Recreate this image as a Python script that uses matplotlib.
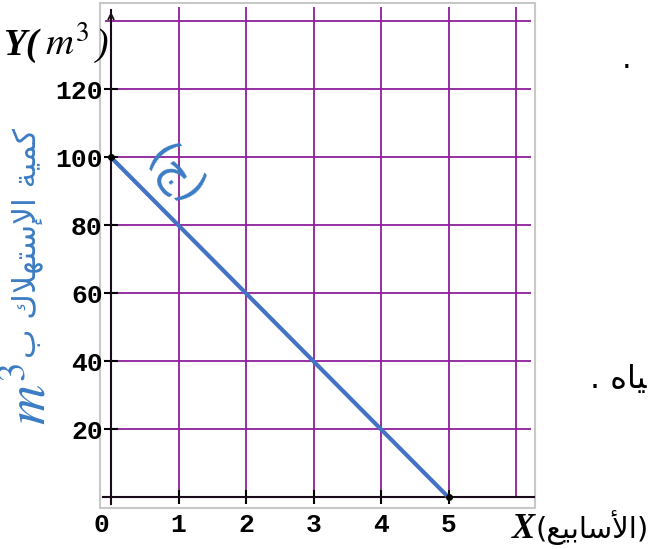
import matplotlib.pyplot as plt
from matplotlib.patches import Rectangle

# data: water consumption (m^3) against weeks
weeks = [0, 1, 2, 3, 4, 5]
consumption = [100, 80, 60, 40, 20, 0]
x_ticks = [1, 2, 3, 4, 5]
x_labels = ["1", "2", "3", "4", "5"]
y_ticks = [20, 40, 60, 80, 100, 120]
y_labels = ["20", "40", "60", "80", "100", "120"]
x_grid = [1, 2, 3, 4, 5, 6]
y_grid = [20, 40, 60, 80, 100, 120, 140]

# arabic text in presentation forms, visual order (no shaping in matplotlib)
ylabel_ar = "\uFE8F \uFED9\uFEFC\uFEEC\uFE98\uFEB3\uFEF9\uFE8D \uFE94\uFEF4\uFEE4\uFEDB"
xlabel_ar = "(\uFECA\uFEF4\uFE91\uFE8E\uFEB3\uFEF7\uFE8D)"
side_ar = ". \uFEE9\uFE8E\uFEF4"
note_ar = "(\uFE9D)"

purple = "#8e1f9a"
blue_line = "#4472c4"
blue_txt = "#3b7cc4"

plt.rcParams['font.family'] = ['DejaVu Sans']
plt.rcParams['mathtext.fontset'] = 'stix'

W, H = 652, 549
fig = plt.figure(figsize=(W / 100, H / 100), dpi=100)
ax = fig.add_axes([100 / W, 1 - 508 / H, 435 / W, 505 / H])
ax.set_xlim(-0.163, 6.281)
ax.set_ylim(-3.15, 145.4)

# grey frame around the picture
ax.add_patch(Rectangle((0, 0), 1, 1, transform=ax.transAxes, fill=False,
                       ec="#c8c8c8", lw=1.5, clip_on=False, zorder=0))
for s in ["top", "right"]:
    ax.spines[s].set_visible(False)

# grid
ax.vlines(x_grid, 0, 144.2, color=purple, lw=1.3, zorder=1)
ax.hlines(y_grid, -0.09, 6.22, color=purple, lw=1.3, zorder=1)

# axes through origin
ax.spines['left'].set_position(('data', 0))
ax.spines['bottom'].set_position(('data', 0))
ax.spines['left'].set_bounds(-1.97, 143.3)
ax.spines['bottom'].set_bounds(-0.12, 6.27)
for s in ["left", "bottom"]:
    ax.spines[s].set_color("#1a0a1a")
    ax.spines[s].set_linewidth(1.5)
    ax.spines[s].set_zorder(2)
ax.annotate("", xy=(0, 143.6), xytext=(0, 138), arrowprops=dict(arrowstyle="->", color="#1a0a1a", lw=1.3))
ax.annotate("", xy=(6.3, 0), xytext=(6.1, 0), arrowprops=dict(arrowstyle="->", color="#1a0a1a", lw=1.3))

ax.set_xticks(x_ticks)
ax.set_xticklabels(x_labels, fontfamily="Liberation Mono", fontweight="bold", fontsize=19)
ax.set_yticks(y_ticks)
ax.set_yticklabels(y_labels, fontfamily="Liberation Mono", fontweight="bold", fontsize=19)
ax.tick_params(axis="both", direction="inout", length=10, width=1.5, color="black")
ax.tick_params(axis="x", pad=6)
ax.tick_params(axis="y", pad=1)
ax.annotate("0", xy=(0, 0), xytext=(-10, -16), textcoords="offset pixels", ha="center", va="top",
            fontfamily="Liberation Mono", fontweight="bold", fontsize=19)

# the line
ax.plot(weeks, consumption, color=blue_line, lw=3, zorder=3, solid_capstyle="butt")
ax.plot([weeks[0], weeks[-1]], [consumption[0], consumption[-1]], "o", color="black", ms=4, zorder=4)

# texts
fig.text(3 / W, 1 - 55 / H, "Y(", fontfamily="Liberation Serif", fontweight="bold",
         fontstyle="italic", fontsize=27, va="baseline")
fig.text(45 / W, 1 - 55 / H, "$m^3$", fontsize=28, va="baseline")
fig.text(96 / W, 1 - 55 / H, ")", fontfamily="Liberation Serif", fontstyle="italic",
         fontsize=27, va="baseline")

fig.text(27 / W, 1 - 243 / H, ylabel_ar, rotation=90, color=blue_txt, fontsize=22.5,
         ha="center", va="center")
fig.text(30 / W, 1 - 394 / H, "$m^3$", rotation=90, color=blue_txt, fontsize=40,
         ha="center", va="center")
fig.text(174 / W, 1 - 176 / H, note_ar, rotation=-50, color=blue_txt, fontsize=32,
         ha="center", va="center")

fig.text(512 / W, 1 - 538 / H, "X", fontfamily="Liberation Serif", fontweight="bold",
         fontstyle="italic", fontsize=25, va="baseline")
fig.text(536 / W, 1 - 538 / H, xlabel_ar, fontsize=21, va="baseline")

fig.text(627 / W, 1 - 68 / H, ".", fontsize=22, ha="center", va="baseline")
fig.text(590 / W, 1 - 388 / H, side_ar, fontsize=23, ha="left", va="baseline")

fig.savefig("out.png", dpi=100)
